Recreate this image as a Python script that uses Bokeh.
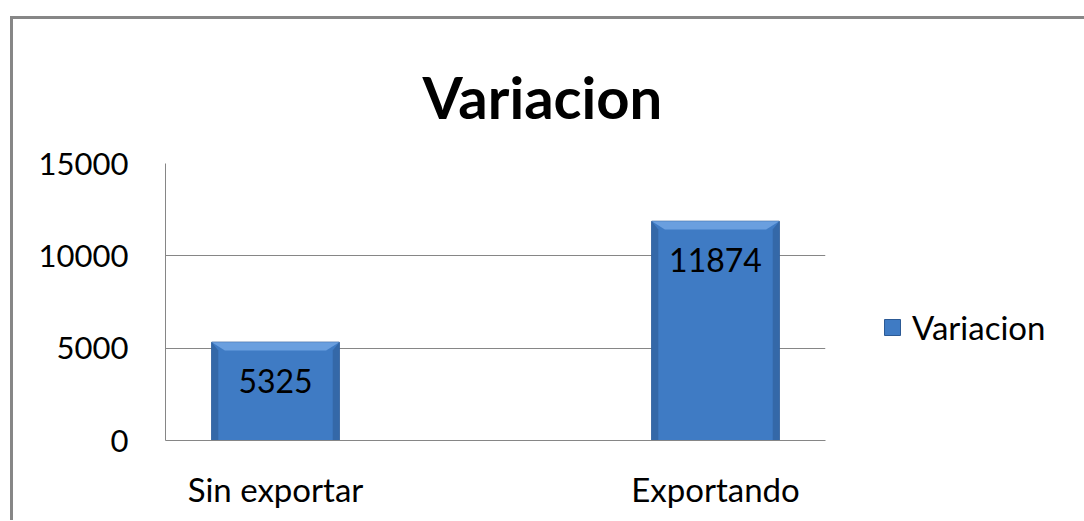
from bokeh.plotting import figure
from bokeh.models import (Range1d, FixedTicker, Legend, LegendItem,
                          ColumnDataSource, LabelSet)
from bokeh.core.properties import value
from bokeh.embed import file_html
from bokeh.resources import INLINE

categories = ["Sin exportar", "Exportando"]
values = [5325, 11874]
label_texts = ["5325", "11874"]
series_name = "Variacion"
y_ticks = [0, 5000, 10000, 15000]

xpos = list(range(len(categories)))
bar_w = 0.29

p = figure(frame_width=660, frame_height=277, output_backend="svg", toolbar_location=None,
           x_range=Range1d(-0.25, 1.25), y_range=Range1d(0, 15000),
           min_border_left=152, min_border_right=254, min_border_top=144,
           min_border_bottom=80)
p.outline_line_color = None
p.background_fill_color = "white"
p.border_fill_color = "white"
p.styles = {"margin-left": "10px", "margin-top": "16px",
            "border-left": "3px solid #878787", "border-top": "3px solid #878787"}

src = ColumnDataSource(dict(x=xpos, top=values, lab=label_texts))
r = p.vbar(x="x", top="top", width=bar_w, source=src, fill_color="#3f7bc4",
           line_color="#2c5a95", line_width=1)

# bevel highlights derived from values
dy = 450
dx = 0.03
top_xs, top_ys, side_xs, side_ys = [], [], [], []
for xi, v in zip(xpos, values):
    l, rr = xi - bar_w / 2, xi + bar_w / 2
    top_xs.append([l, rr, rr - dx, l + dx])
    top_ys.append([v, v, v - dy, v - dy])
    side_xs.append([l, l + dx * 0.5, l + dx * 0.5, l])
    side_ys.append([0, 0, v - dy, v])
    side_xs.append([rr, rr - dx * 0.5, rr - dx * 0.5, rr])
    side_ys.append([0, 0, v - dy, v])
p.patches(top_xs, top_ys, fill_color="#6a9fdf", line_color=None)
p.patches(side_xs, side_ys, fill_color="#3468a8", line_color=None)

labels = LabelSet(x="x", y="top", text="lab", source=src, text_align="center",
                  text_baseline="top", y_offset=-27, text_font=value("Lato"),
                  text_font_size=value("32px"), text_color="black")
p.add_layout(labels)

p.title.text = "Variacion"
p.title.text_font = "Lato"
p.title.text_font_style = "bold"
p.title.text_font_size = "58px"
p.title.text_color = "black"
p.title.align = "left"
p.title.offset = 257
p.title.standoff = 66

p.yaxis.ticker = FixedTicker(ticks=y_ticks)
p.xaxis.ticker = FixedTicker(ticks=xpos)
p.xaxis.major_label_overrides = {i: c for i, c in zip(xpos, categories)}
for ax in (p.xaxis, p.yaxis):
    ax.major_label_text_font = "Lato"
    ax.major_label_text_color = "black"
    ax.major_tick_out = 0
    ax.major_tick_in = 0
    ax.minor_tick_out = 0
    ax.minor_tick_in = 0
    ax.axis_line_color = "#868686"
p.yaxis.major_label_text_font_size = "31px"
p.xaxis.major_label_text_font_size = "33px"
p.yaxis.major_label_standoff = 37
p.xaxis.major_label_standoff = 28
p.xgrid.grid_line_color = None
p.ygrid.grid_line_color = "#868686"
p.ygrid.ticker = FixedTicker(ticks=y_ticks)

legend = Legend(items=[LegendItem(label=series_name, renderers=[r])],
                location=(57, 93), label_text_font="Lato",
                label_text_font_size="33px", label_text_color="black",
                glyph_width=20, glyph_height=20,
                border_line_color=None, background_fill_alpha=0,
                label_standoff=10, padding=4)
p.add_layout(legend, "right")

open("out.html", "w").write(file_html(p, INLINE))
